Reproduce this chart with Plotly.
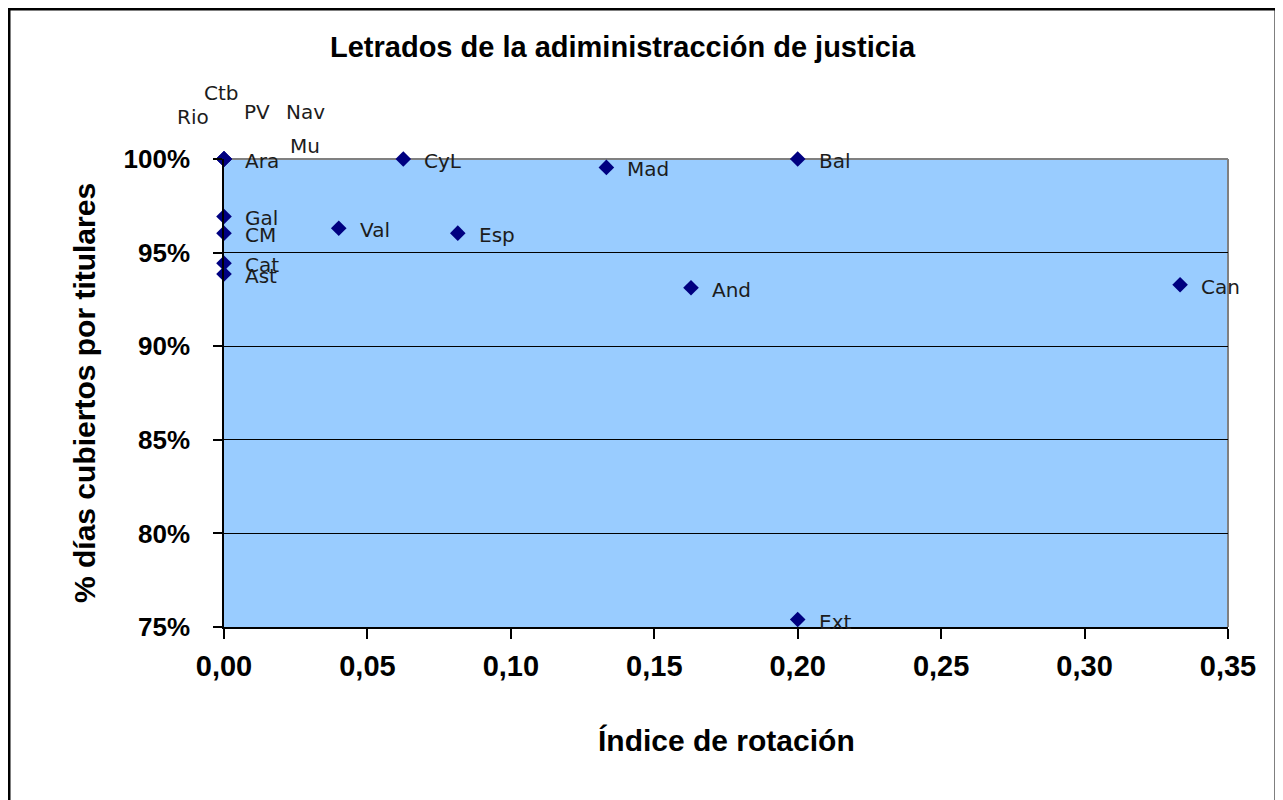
import plotly.graph_objects as go

# ---- data ----
regiones = ["Rio", "Ctb", "PV", "Nav", "Mu", "Ara", "CyL", "Mad", "Bal",
            "Gal", "CM", "Cat", "Ast", "Val", "Esp", "And", "Can", "Ext"]
indice_rotacion = [0.0, 0.0, 0.0, 0.0, 0.0, 0.0, 0.0625, 0.1333, 0.2,
                   0.0, 0.0, 0.0, 0.0, 0.04, 0.0815, 0.1628, 0.3333, 0.2]
dias_cubiertos = [1.0, 1.0, 1.0, 1.0, 1.0, 1.0, 1.0, 0.9955, 1.0,
                  0.9693, 0.9603, 0.9443, 0.9386, 0.963, 0.9604, 0.9312, 0.9328, 0.754]
x_ticks = [0.0, 0.05, 0.10, 0.15, 0.20, 0.25, 0.30, 0.35]
y_ticks = [0.75, 0.80, 0.85, 0.90, 0.95, 1.0]

# label placement (pixel offsets) for manually moved labels
manual_offsets = {"Rio": (-31, 42), "Ctb": (-3, 66), "PV": (33, 47),
                  "Nav": (81, 47), "Mu": (81, 13)}

OFF = 8  # page body margin
W, H = 1283, 800
L, R, T, B = 224 - OFF, 1283 - (1228 - OFF), 159 - OFF, 800 - (627 - OFF)
pw, ph = W - L - R, H - T - B

def px_x(px):  # page pixel -> paper
    return (px - OFF - L) / pw

def px_y(py):
    return (H - B - (py - OFF)) / ph

fig = go.Figure()
fig.add_trace(go.Scatter(
    x=indice_rotacion, y=dias_cubiertos, mode="markers",
    marker=dict(symbol="diamond", size=12, color="#000080"),
    cliponaxis=False, showlegend=False, hoverinfo="skip"))

annotations = []
lab_font = dict(family="DejaVu Sans", size=20, color="#1c1c1c")
for name, xv, yv in zip(regiones, indice_rotacion, dias_cubiertos):
    if name in manual_offsets:
        dx, dy = manual_offsets[name]
        annotations.append(dict(x=xv, y=yv, xref="x", yref="y", text=name,
                                showarrow=False, xanchor="center", yanchor="middle",
                                xshift=dx, yshift=dy, font=lab_font))
    else:
        annotations.append(dict(x=xv, y=yv, xref="x", yref="y", text=name,
                                showarrow=False, xanchor="left", yanchor="middle",
                                xshift=19, yshift=-2, font=lab_font))

bold = dict(family="Liberation Sans", color="black")
annotations.append(dict(x=px_x(623), y=px_y(47), xref="paper", yref="paper",
                        text="<b>Letrados de la adiministracción de justicia</b>",
                        showarrow=False, xanchor="center", yanchor="middle",
                        font=dict(size=29, **bold)))
annotations.append(dict(x=px_x(726), y=px_y(740), xref="paper", yref="paper",
                        text="<b>Índice de rotación</b>",
                        showarrow=False, xanchor="center", yanchor="middle",
                        font=dict(size=30, **bold)))
annotations.append(dict(x=px_x(84), y=px_y(393), xref="paper", yref="paper",
                        text="<b>% días cubiertos por titulares</b>", textangle=-90,
                        showarrow=False, xanchor="center", yanchor="middle",
                        font=dict(size=30, **bold)))

shapes = [
    # gray top and right plot border
    dict(type="line", xref="paper", yref="paper", x0=0, x1=1, y0=1, y1=1,
         line=dict(color="#808080", width=2), layer="between"),
    dict(type="line", xref="paper", yref="paper", x0=1, x1=1, y0=0, y1=1,
         line=dict(color="#808080", width=2), layer="between"),
    # outer chart border
    dict(type="rect", xref="paper", yref="paper",
         x0=px_x(9), x1=px_x(1276), y0=px_y(815), y1=px_y(9),
         line=dict(color="black", width=3), fillcolor="rgba(0,0,0,0)", layer="above"),
]

fig.update_layout(
    width=W, height=H,
    margin=dict(l=L, r=R, t=T, b=B, autoexpand=False),
    paper_bgcolor="white", plot_bgcolor="#99CCFF",
    separators=",.",
    annotations=annotations, shapes=shapes,
    xaxis=dict(range=[0, 0.35], tickvals=x_ticks, tickformat=".2f",
               showgrid=False, zeroline=False, showline=True,
               linecolor="black", linewidth=1.5, ticks="outside", ticklen=10,
               tickcolor="black", tickwidth=1.5, ticklabelstandoff=2,
               tickfont=dict(family="Liberation Sans", size=29, color="black",
                             weight="bold")),
    yaxis=dict(range=[0.75, 1.0], tickvals=y_ticks, tickformat=".0%",
               showgrid=True, gridcolor="black", gridwidth=1,
               zeroline=False, showline=True,
               linecolor="black", linewidth=1.5, ticks="outside", ticklen=9,
               tickcolor="black", tickwidth=1.5, ticklabelstandoff=18,
               tickfont=dict(family="Liberation Sans", size=26, color="black",
                             weight="bold")),
)

fig.write_html("out.html")
